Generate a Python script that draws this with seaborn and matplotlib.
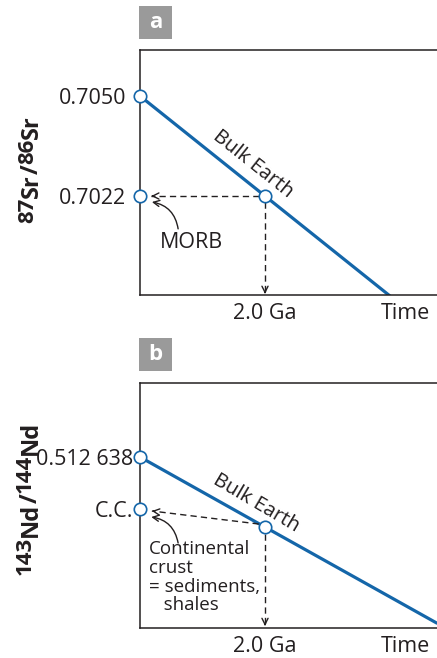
import numpy as np
import pandas as pd
import matplotlib
matplotlib.use("Agg")
import matplotlib.pyplot as plt
from matplotlib.patches import Rectangle
from matplotlib.transforms import blended_transform_factory
import seaborn as sns

# ---------------- data ----------------
# Panel a : 87Sr/86Sr
sr_line_x = [0.0, 2.0, 4.0]
sr_line_y = [0.7050, 0.7022, 0.6994]
sr_dots_x = [0.0, 2.0, 0.0]
sr_dots_y = [0.7050, 0.7022, 0.7022]
sr_ticks = [0.7050, 0.7022]
sr_ticklabels = ["0.7050", "0.7022"]
sr_ylim = (0.699428, 0.706288)
sr_label_parts = [("87", True), ("Sr", False), ("/", False), ("86", True), ("Sr", False)]

# Panel b : 143Nd/144Nd
nd_line_x = [0.0, 2.0, 4.75]
nd_line_y = [0.512638, 0.510150, 0.506740]
nd_dots_x = [0.0, 2.0, 0.0]
nd_dots_y = [0.512638, 0.510150, 0.510792]
nd_ticks = [0.512638, 0.510792]
nd_ticklabels = ["0.512 638", "C.C."]
nd_ylim = (0.506578, 0.515276)
nd_label_parts = [("143", True), ("Nd", False), ("/", False), ("144", True), ("Nd", False)]

xlim = (0.0, 4.752)
x_2ga = 2.0
x_time = 4.24
x_labels = ["2.0 Ga", "Time"]

BLUE = "#1466a9"
INK = "#231f20"
GREY = "#9a9a9a"

sns.set_theme(style="white")
plt.rcParams["font.family"] = ["Open Sans", "DejaVu Sans"]
plt.rcParams["text.color"] = INK

fig = plt.figure(figsize=(4.37, 6.58), dpi=100)
W, H = 437.0, 658.0
renderer = fig.canvas.get_renderer()


def axes_rect(top_px, bottom_px):
    return [140 / W, 1 - bottom_px / H, 1 - 140 / W, (bottom_px - top_px) / H]

ax_a = fig.add_axes(axes_rect(50, 295))
ax_b = fig.add_axes(axes_rect(382.7, 627.7))


def style_axes(ax, ylim, ticks, ticklabels, pad):
    ax.set_xlim(*xlim)
    ax.set_ylim(*ylim)
    for s in ["left", "bottom", "top"]:
        ax.spines[s].set_color(INK)
        ax.spines[s].set_linewidth(1.1)
    ax.spines["right"].set_visible(False)
    ax.set_xticks([])
    ax.set_yticks(ticks)
    ax.set_yticklabels(ticklabels, fontsize=15.5, color=INK)
    ax.tick_params(axis="y", length=0, pad=pad)
    ax.set_xlabel("")
    ax.set_ylabel("")
    trans = blended_transform_factory(ax.transData, ax.transAxes)
    ax.text(x_2ga, -0.075, x_labels[0], transform=trans, ha="center", va="center", fontsize=15.5)
    ax.text(x_time, -0.075, x_labels[1], transform=trans, ha="center", va="center", fontsize=15.5)


def draw_series(ax, lx, ly, dx, dy):
    df_line = pd.DataFrame({"x": lx, "y": ly})
    sns.lineplot(data=df_line, x="x", y="y", ax=ax, color=BLUE, linewidth=2.3, sort=False)
    df_dots = pd.DataFrame({"x": dx, "y": dy})
    sns.scatterplot(data=df_dots, x="x", y="y", ax=ax, s=80, facecolor="white",
                    edgecolor=BLUE, linewidth=1.2, zorder=5, clip_on=False)


def dashed_arrow(ax, start, end):
    ax.plot([start[0], end[0]], [start[1], end[1]], color=INK, lw=1.0,
            dashes=(4.5, 3), zorder=3)
    fx = end[0] + (start[0] - end[0]) * 0.02
    fy = end[1] + (start[1] - end[1]) * 0.02
    ax.annotate("", xy=end, xytext=(fx, fy),
                arrowprops=dict(arrowstyle="->", lw=1.0, color=INK, mutation_scale=11,
                                shrinkA=0, shrinkB=0))


def vertical_label(parts, baseline_x_px, bottom_y_px, big=17, small=16, raise_px=5):
    """Draw a bold, vertical isotope-ratio label from separate text runs."""
    y = bottom_y_px
    for txt, sup in parts:
        fs = small if sup else big
        probe = fig.text(0, 0, txt, fontsize=fs, fontweight="bold")
        w = probe.get_window_extent(renderer).width
        probe.remove()
        bx = baseline_x_px - (raise_px if sup else 0)
        fig.text(bx / W, 1 - y / H, txt, fontsize=fs, fontweight="bold", rotation=90,
                 rotation_mode="anchor", ha="left", va="baseline", color=INK)
        y -= w


# ---------------- panel a ----------------
draw_series(ax_a, sr_line_x, sr_line_y, sr_dots_x, sr_dots_y)
style_axes(ax_a, sr_ylim, sr_ticks, sr_ticklabels, pad=10)
dashed_arrow(ax_a, (1.90, 0.7022), (0.18, 0.7022))
dashed_arrow(ax_a, (2.0, 0.70203), (2.0, 0.69946))
ax_a.annotate("", xy=(0.19, 0.702032), xytext=(0.61, 0.70128),
              arrowprops=dict(arrowstyle="->", lw=1.0, color=INK, mutation_scale=11,
                              connectionstyle="arc3,rad=0.35", shrinkA=0, shrinkB=0))
ax_a.text(0.83, 0.700912, "MORB", ha="center", va="center", fontsize=15.5)
ax_a.text(1.80, 0.70310, "Bulk Earth", ha="center", va="center", fontsize=14.5,
          rotation=-38.5, rotation_mode="anchor")
vertical_label(sr_label_parts, 38, 223)

# ---------------- panel b ----------------
draw_series(ax_b, nd_line_x, nd_line_y, nd_dots_x, nd_dots_y)
style_axes(ax_b, nd_ylim, nd_ticks, nd_ticklabels, pad=5)
dashed_arrow(ax_b, (1.90, 0.510259), (0.19, 0.510721))
dashed_arrow(ax_b, (2.0, 0.50992), (2.0, 0.50664))
ax_b.annotate("", xy=(0.18, 0.510508), xytext=(0.61, 0.509585),
              arrowprops=dict(arrowstyle="->", lw=1.0, color=INK, mutation_scale=11,
                              connectionstyle="arc3,rad=0.35", shrinkA=0, shrinkB=0))
ax_b.text(0.144, 0.50968, "Continental\ncrust\n= sediments,\n   shales", ha="left", va="top",
          fontsize=13.5, linespacing=1.05)
ax_b.text(1.86, 0.511005, "Bulk Earth", ha="center", va="center", fontsize=14.5,
          rotation=-30.5, rotation_mode="anchor")
vertical_label(nd_label_parts, 37, 575, raise_px=6)

# ---------------- panel tags ----------------
for label, top in [("a", 6), ("b", 338)]:
    fig.patches.append(Rectangle((139 / W, 1 - (top + 33) / H), 33 / W, 33 / H,
                                 transform=fig.transFigure, facecolor=GREY,
                                 edgecolor="none"))
    fig.text(155.5 / W, 1 - (top + 16.5) / H, label, color="white", fontsize=16,
             fontweight="bold", ha="center", va="center")

fig.savefig("out.png", dpi=100)
